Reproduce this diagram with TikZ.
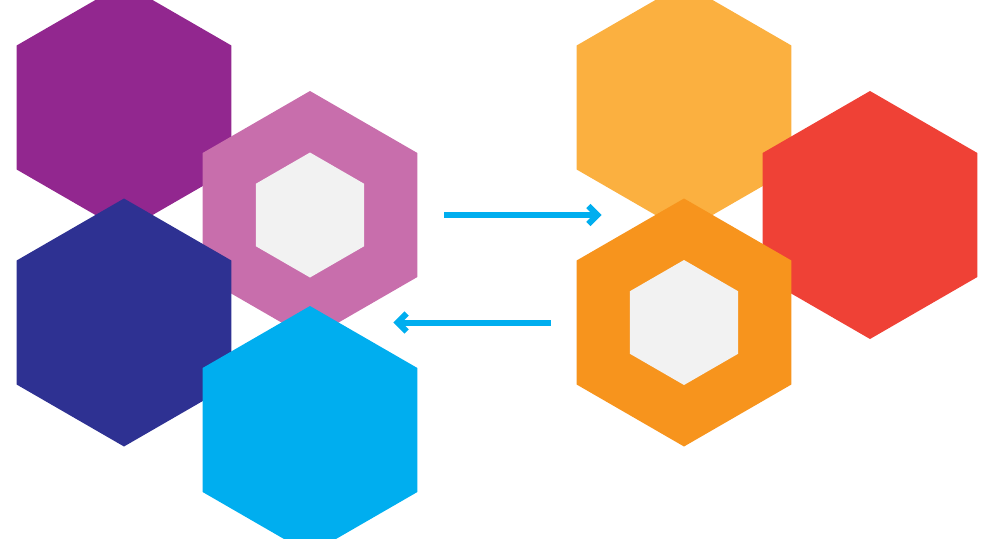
\documentclass[tikz,border=0pt]{standalone}
\usetikzlibrary{shapes.geometric,arrows.meta}
\definecolor{hpurple}{HTML}{92278F}
\definecolor{hpink}{HTML}{C86EAC}
\definecolor{hnavy}{HTML}{2E3192}
\definecolor{hcyan}{HTML}{00AEEF}
\definecolor{hyellow}{HTML}{FBB040}
\definecolor{hred}{HTML}{EF4136}
\definecolor{horange}{HTML}{F7941D}
\definecolor{hinner}{HTML}{F2F2F2}
\begin{document}
\begin{tikzpicture}[x=1pt,y=-1pt,
    hexa/.style={regular polygon, regular polygon sides=6, shape border rotate=30,
      minimum size=248pt, inner sep=0pt, outer sep=0pt, fill=#1},
    hole/.style={regular polygon, regular polygon sides=6, shape border rotate=30,
      minimum size=125pt, inner sep=0pt, outer sep=0pt, fill=hinner},
    link/.style={hcyan, line width=6pt, -{Straight Barb[length=9pt,width=18pt]}}
    ]
    \useasboundingbox (0,0) rectangle (995,538);

    % left cluster
    \node[hexa=hpurple] (purple) at (124,107.5) {};
    \node[hexa=hpink] (pink) at (310,215) {};
    \node[hexa=hnavy] (navy) at (124,322.5) {};
    \node[hexa=hcyan] (cyan) at (310,430) {};
    \node[hole] (pinkhole) at (pink) {};

    % right cluster
    \node[hexa=hyellow] (yellow) at (684,107.5) {};
    \node[hexa=hred] (red) at (870,215) {};
    \node[hexa=horange] (orange) at (684,322.5) {};
    \node[hole] (orangehole) at (orange) {};

    \draw[link] ([xshift=27pt]pink.east) -- ([xshift=25pt]orange.west |- pink.east);
    \draw[link] ([xshift=-26pt]orange.west) -- ([xshift=-24pt]pink.east |- orange.west);
\end{tikzpicture}
\end{document}
